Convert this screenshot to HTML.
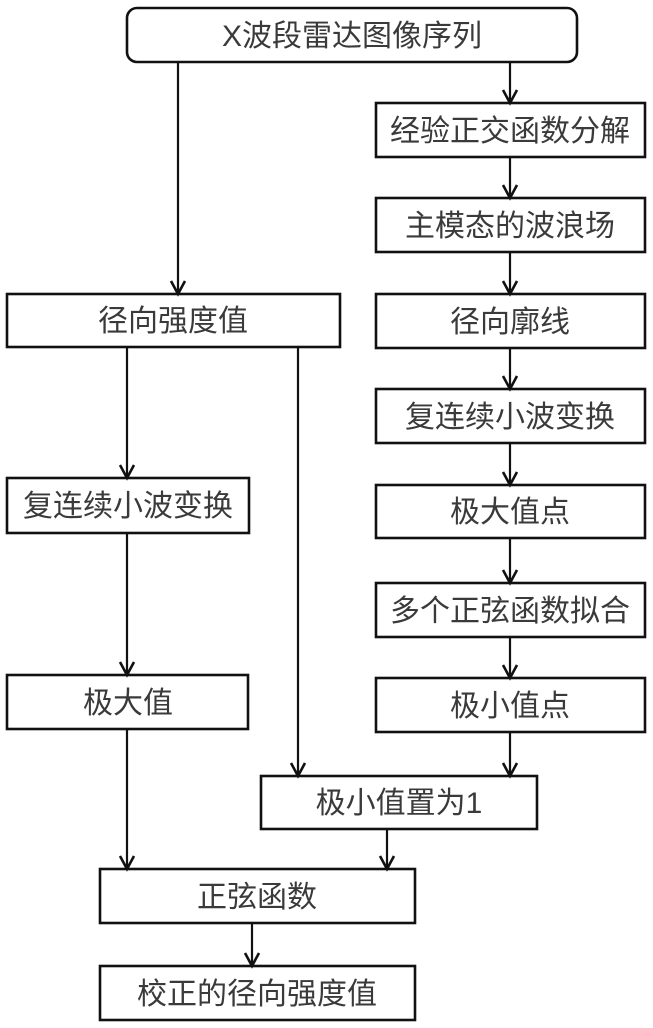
<!DOCTYPE html>
<html>
<head>
<meta charset="utf-8">
<style>
  html, body { margin: 0; padding: 0; background: #fff; }
  svg { display: block; }
  text { font-family: "Liberation Sans", "Noto Sans CJK SC", sans-serif; font-size: 30px; fill: #3a3a3a; text-anchor: middle; }
</style>
</head>
<body>
<svg width="653" height="1028" viewBox="0 0 653 1028" xmlns="http://www.w3.org/2000/svg">
  <g fill="#fff" stroke="#111" stroke-width="2.6">
    <rect x="127" y="8" width="450" height="54" rx="10" ry="10"/>
    <!-- right column -->
    <rect x="376" y="103" width="269" height="54"/>
    <rect x="376" y="198" width="269" height="54"/>
    <rect x="376" y="294" width="269" height="54"/>
    <rect x="376" y="389" width="269" height="54"/>
    <rect x="376" y="485" width="269" height="53"/>
    <rect x="376" y="583" width="269" height="54"/>
    <rect x="376" y="678" width="269" height="54"/>
    <!-- left column -->
    <rect x="7" y="294" width="333" height="53"/>
    <rect x="7" y="478" width="242" height="55"/>
    <rect x="7" y="675" width="241" height="54"/>
    <rect x="261" y="776" width="276" height="53"/>
    <rect x="100" y="869" width="315" height="54"/>
    <rect x="100" y="966" width="315" height="54"/>
  </g>

  <g stroke="#111" stroke-width="2.2" fill="none">
    <line x1="178" y1="62" x2="178" y2="293"/>
    <line x1="510" y1="62" x2="510" y2="102"/>
    <line x1="510" y1="157" x2="510" y2="197"/>
    <line x1="510" y1="252" x2="510" y2="293"/>
    <line x1="510" y1="348" x2="510" y2="388"/>
    <line x1="510" y1="443" x2="510" y2="484"/>
    <line x1="510" y1="538" x2="510" y2="582"/>
    <line x1="510" y1="637" x2="510" y2="677"/>
    <line x1="510" y1="732" x2="510" y2="775"/>
    <line x1="127" y1="347" x2="127" y2="477"/>
    <line x1="127" y1="533" x2="127" y2="674"/>
    <line x1="127" y1="729" x2="127" y2="868"/>
    <line x1="298" y1="347" x2="298" y2="775"/>
    <line x1="387" y1="829" x2="387" y2="868"/>
    <line x1="252" y1="923" x2="252" y2="965"/>
  </g>

  <g stroke="#111" stroke-width="2.6" fill="none" stroke-linejoin="miter">
    <polyline points="171,281 178,294 185,281"/>
    <polyline points="503,90 510,103 517,90"/>
    <polyline points="503,185 510,198 517,185"/>
    <polyline points="503,281 510,294 517,281"/>
    <polyline points="503,376 510,389 517,376"/>
    <polyline points="503,472 510,485 517,472"/>
    <polyline points="503,570 510,583 517,570"/>
    <polyline points="503,665 510,678 517,665"/>
    <polyline points="503,763 510,776 517,763"/>
    <polyline points="120,465 127,478 134,465"/>
    <polyline points="120,662 127,675 134,662"/>
    <polyline points="120,856 127,869 134,856"/>
    <polyline points="291,763 298,776 305,763"/>
    <polyline points="380,856 387,869 394,856"/>
    <polyline points="245,953 252,966 259,953"/>
  </g>

  <g>
    <text x="352" y="46">X波段雷达图像序列</text>
    <text x="510" y="141">经验正交函数分解</text>
    <text x="510" y="236">主模态的波浪场</text>
    <text x="510" y="332">径向廓线</text>
    <text x="510" y="427">复连续小波变换</text>
    <text x="510" y="522">极大值点</text>
    <text x="510" y="621">多个正弦函数拟合</text>
    <text x="510" y="716">极小值点</text>
    <text x="173" y="331">径向强度值</text>
    <text x="128" y="516">复连续小波变换</text>
    <text x="128" y="713">极大值</text>
    <text x="399" y="813">极小值置为1</text>
    <text x="257" y="907">正弦函数</text>
    <text x="257" y="1004">校正的径向强度值</text>
  </g>
</svg>
</body>
</html>
